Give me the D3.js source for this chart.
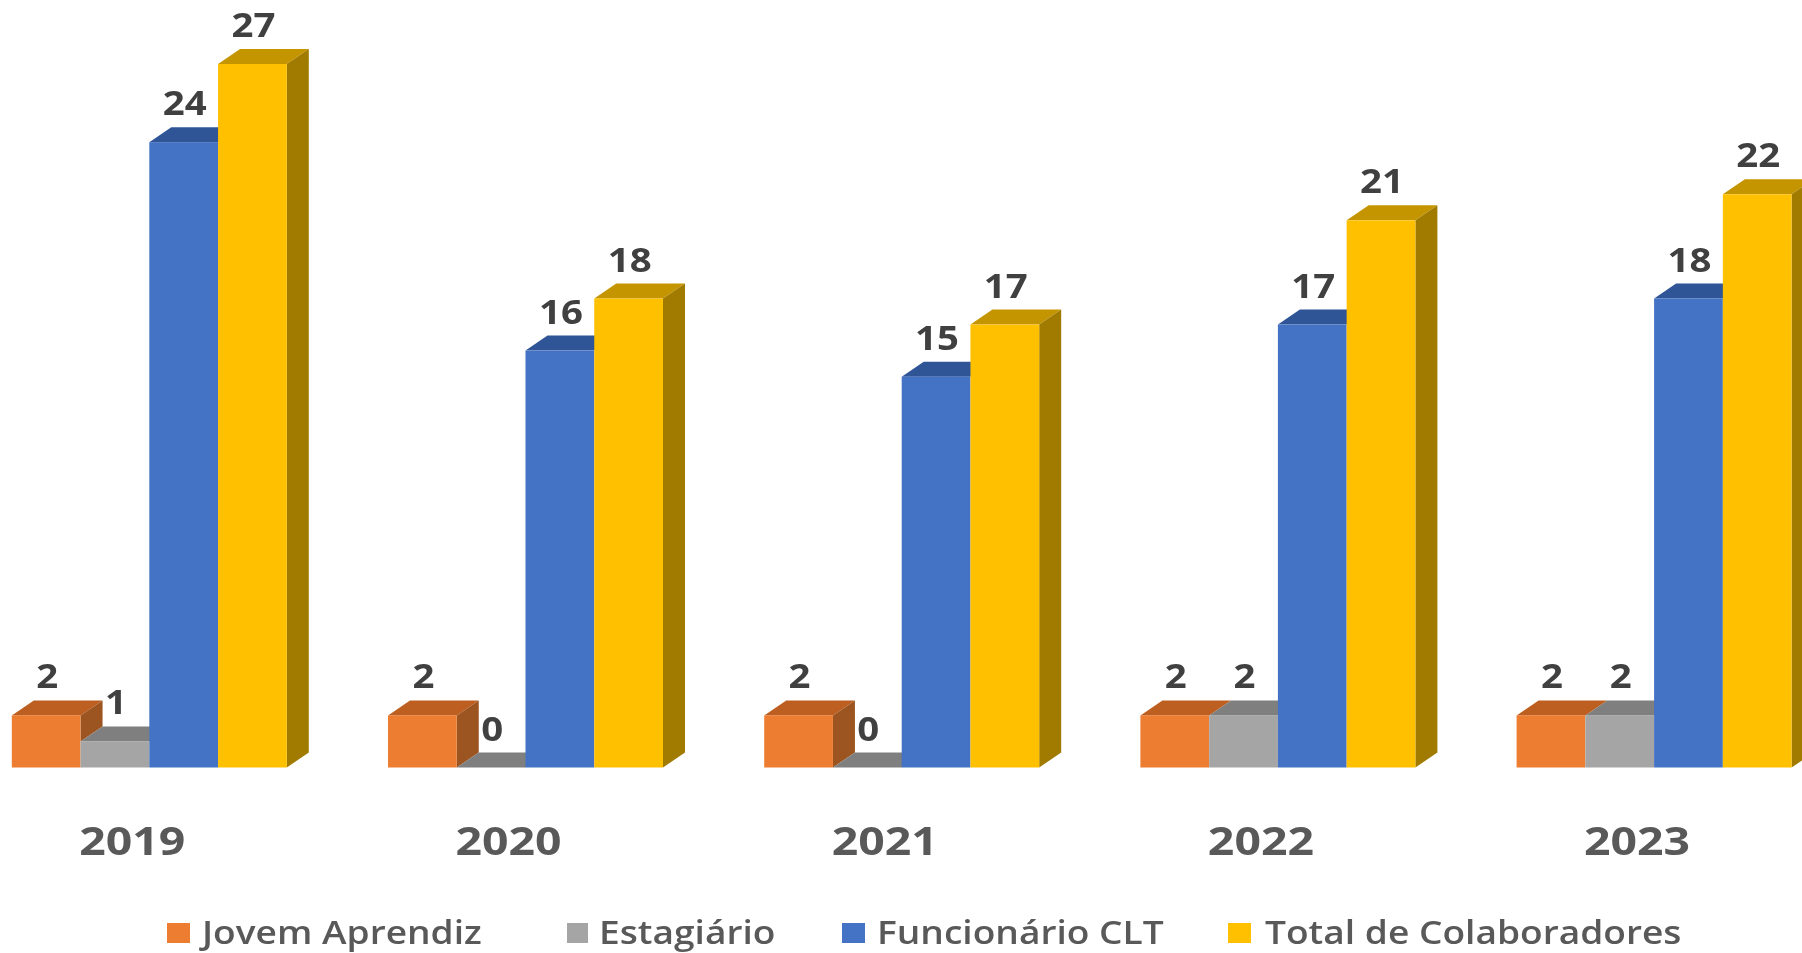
<!DOCTYPE html>
<html><head><meta charset="utf-8">
<script src="https://cdn.jsdelivr.net/npm/d3@7/dist/d3.min.js"></script>
<style>html,body{margin:0;padding:0;background:#fff;overflow:hidden}svg{display:block;filter:blur(.7px)}text{font-family:"Open Sans",sans-serif}</style>
</head><body><svg id="c" width="1802" height="953"></svg>
<script>
const years = ["2019","2020","2021","2022","2023"];
const seriesNames = ["Jovem Aprendiz","Estagiário","Funcionário CLT","Total de Colaboradores"];
const jovemAprendiz = [2,2,2,2,2];
const estagiario = [1,0,0,2,2];
const funcionarioCLT = [24,16,15,17,18];
const totalColaboradores = [27,18,17,21,22];
const seriesValues = [jovemAprendiz,estagiario,funcionarioCLT,totalColaboradores];
const frontColors = ["#ED7D31","#A5A5A5","#4472C4","#FFC000"];
const topColors = ["#BD5F20","#7F7F7F","#2F5597","#C59500"];
const sideColors = ["#9C5520","#6E6E6E","#2A4A85","#A07B00"];
const legendX = [167,567,842,1228];
const legendSwatchW = [23,21,23,23];
const legendTextX = [202,599,877,1265];

const dx=22,dy=15;
const svg=d3.select("#c");
const x0=d3.scaleBand().domain(years).range([11.8,1791.6]).paddingInner(0.269).paddingOuter(0);
const x1=d3.scaleBand().domain(d3.range(4)).range([0,x0.bandwidth()]);
const y=d3.scaleLinear().domain([0,27]).range([767.5,64]);

const poly=(pts)=>d3.line()(pts)+"Z";
years.forEach((yr,g)=>{
  const gp=svg.append("g").attr("transform",`translate(${x0(yr)},0)`);
  const w=x1.bandwidth();
  const backs=gp.append("g"), fronts=gp.append("g");
  seriesValues.forEach((vals,s)=>{
    const v=vals[g], l=x1(s), r=l+w, t=y(v), b=y(0);
    const next=s<3?seriesValues[s+1][g]:0;
    backs.append("path").attr("d",poly([[l,t],[l+dx,t-dy],[r+dx,t-dy],[r,t]])).attr("fill",topColors[s]);
    if(v>next){
      const n=y(next);
      backs.append("path").attr("d",poly([[r,t],[r+dx,t-dy],[r+dx,n-dy],[r,n]])).attr("fill",sideColors[s]);
    }
    if(v>0) fronts.append("rect").attr("x",l).attr("y",t).attr("width",w).attr("height",b-t).attr("fill",frontColors[s]);
  });
  seriesValues.forEach((vals,s)=>{
    const v=vals[g];
    gp.append("text").attr("transform",`translate(${x1(s)+x1.bandwidth()/2+1},${y(v)-27}) scale(1.13,1)`)
      .attr("text-anchor","middle").attr("font-size",34).attr("font-weight",700).attr("fill","#404040").text(v);
  });
  gp.append("text").attr("transform",`translate(${x0.bandwidth()/2-17},855) scale(1.16,1)`)
    .attr("text-anchor","middle").attr("font-size",40).attr("font-weight",700).attr("fill","#595959").text(yr);
});
seriesNames.forEach((n,s)=>{
  svg.append("rect").attr("x",legendX[s]).attr("y",923).attr("width",legendSwatchW[s]).attr("height",20).attr("fill",frontColors[s]);
  svg.append("text").attr("transform",`translate(${legendTextX[s]},944) scale(1.16,1)`)
    .attr("font-size",32).attr("font-weight",600).attr("fill","#595959").text(n);
});
</script></body></html>
